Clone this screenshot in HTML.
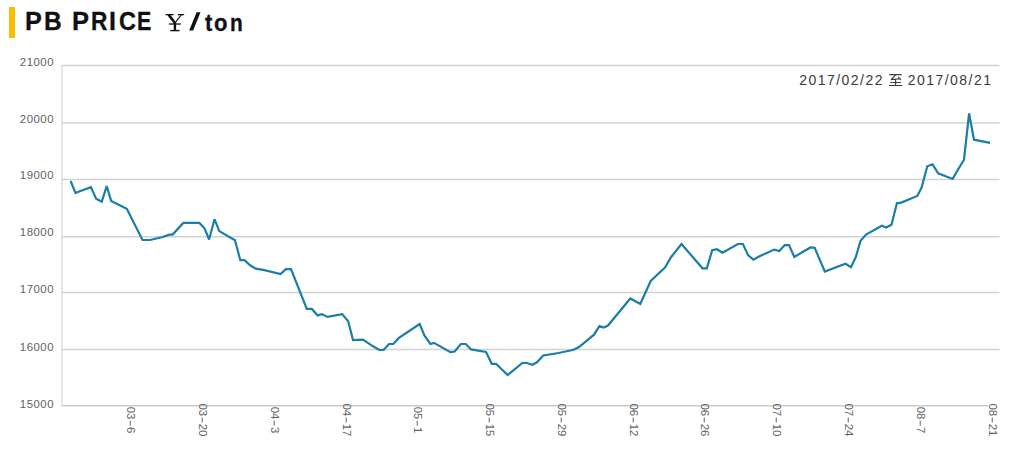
<!DOCTYPE html>
<html><head><meta charset="utf-8"><style>
html,body{margin:0;padding:0;background:#fff;}
body{width:1024px;height:466px;position:relative;overflow:hidden;font-family:"Liberation Sans",sans-serif;}
.bar{position:absolute;left:9.4px;top:7.3px;width:6.1px;height:30.5px;background:#f8bc00;}
.tg{position:absolute;transform-origin:0 0;top:9.2px;font-weight:bold;font-size:25.0px;color:#111;line-height:1;-webkit-text-stroke:0.3px #111;}
.tg.lc{font-size:23.2px;top:12.2px;}
svg{position:absolute;left:0;top:0;}
.yl{position:absolute;right:970.5px;font-size:11.4px;letter-spacing:0.5px;color:#626262;line-height:1;white-space:nowrap;margin-right:-0.5px;}
.xl{position:absolute;width:0;height:0;}
.xl span{position:absolute;left:0;top:0;transform:translate(-50%,-50%) rotate(90deg);font-size:11.4px;letter-spacing:0.1px;color:#626262;line-height:1;white-space:nowrap;}
.xl i{display:inline-block;width:5.2px;height:1.0px;background:#626262;vertical-align:3.3px;margin:0 1.1px;}
.dt{position:absolute;top:73.0px;font-size:14px;letter-spacing:1.45px;color:#3a3a3a;white-space:nowrap;line-height:1;}
</style></head><body>
<div class="bar"></div>
<span class="tg" style="left:25.39px;transform:scaleX(1.007)">P</span><span class="tg" style="left:43.94px;transform:scaleX(0.980)">B</span><span class="tg" style="left:71.66px;transform:scaleX(1.021)">P</span><span class="tg" style="left:90.59px;transform:scaleX(0.907)">R</span><span class="tg" style="left:109.00px;transform:scaleX(1.000)">I</span><span class="tg" style="left:119.06px;transform:scaleX(0.938)">C</span><span class="tg" style="left:137.39px;transform:scaleX(0.857)">E</span><span class="tg lc" style="left:204.50px;transform:scaleX(0.950)">t</span><span class="tg lc" style="left:214.35px;transform:scaleX(0.950)">o</span><span class="tg lc" style="left:230.30px;transform:scaleX(0.900)">n</span>
<svg width="1024" height="466" viewBox="0 0 1024 466">
<g stroke="#d2d2d2" stroke-width="1.5" fill="none"><line x1="62" y1="405.8" x2="988" y2="405.8" stroke="#cbcbcb"/><line x1="62" y1="349.5" x2="999.5" y2="349.5"/><line x1="62" y1="292.5" x2="999.5" y2="292.5"/><line x1="62" y1="236.8" x2="999.5" y2="236.8"/><line x1="62" y1="179.5" x2="999.5" y2="179.5"/><line x1="62" y1="122.9" x2="999.5" y2="122.9"/><line x1="62" y1="65.6" x2="999.5" y2="65.6"/></g>
<line x1="61.9" y1="64.89999999999999" x2="61.9" y2="406.5" stroke="#dfdfe3" stroke-width="1.5"/>
<polyline points="70.6,181.0 75.5,193.0 79.1,191.4 90.9,187.1 96.1,198.6 101.8,201.7 106.7,186.0 111.2,201.1 126.8,208.8 142.5,240.0 150.0,240.0 161.8,237.2 169.4,234.6 172.6,234.6 183.3,222.9 199.4,222.9 204.5,228.3 209.1,239.5 214.5,219.2 219.3,231.1 235.0,240.2 240.3,260.2 244.5,260.2 250.4,265.5 255.8,268.7 264.4,270.2 280.5,274.0 285.9,269.1 291.0,269.1 306.8,308.9 311.8,308.9 317.6,315.4 321.8,314.1 327.6,316.9 342.2,314.1 348.2,321.2 353.0,340.0 362.9,339.7 372.3,345.8 379.3,350.0 383.6,350.0 389.0,344.0 393.3,344.0 398.6,338.2 419.7,324.0 424.4,335.4 430.4,344.0 434.0,342.9 450.4,352.1 454.7,351.5 460.8,344.0 465.8,344.0 471.1,349.4 486.0,352.0 491.8,363.8 496.0,363.8 507.6,375.1 522.3,363.0 527.0,363.0 532.3,364.8 537.0,362.3 543.2,355.5 558.6,353.0 573.6,349.7 579.0,347.0 594.0,334.7 599.4,326.1 603.7,327.6 608.0,325.5 630.3,298.5 640.3,304.0 650.7,281.0 665.0,267.5 671.0,257.2 681.5,244.0 702.5,268.3 706.8,268.3 712.2,250.3 716.9,249.2 722.5,252.8 737.9,244.0 742.9,244.0 748.2,255.4 753.4,259.7 759.0,256.5 774.2,249.6 779.3,251.1 784.7,245.1 789.0,245.1 794.3,256.9 810.4,247.5 814.7,247.9 824.8,271.5 845.4,263.7 851.0,267.2 855.8,257.0 860.6,240.8 866.0,234.5 881.8,225.8 886.1,227.5 891.5,224.7 896.9,203.3 901.2,202.6 917.3,196.0 921.6,187.5 927.3,166.3 932.5,164.3 938.2,173.4 952.6,179.0 957.9,169.7 964.0,159.7 969.1,113.3 974.0,139.7 990.1,142.9" fill="none" stroke="#1a7ea6" stroke-width="2.2" stroke-linejoin="miter" stroke-miterlimit="3" stroke-linecap="butt"/>
<g fill="none" stroke="#111" transform="translate(0 0.4)">
<path d="M165.6 14.2H173.6M177.9 14.2H184.1" stroke-width="1.3"/>
<path d="M168.6 14.2L175 22.6" stroke-width="2.6"/>
<path d="M181.4 14.2L175 22.6" stroke-width="1.2"/>
<path d="M175 22H175" stroke-width="0"/>
<path d="M174.9 21.8V30" stroke-width="2.4"/>
<path d="M168.9 23.6H180.9" stroke-width="1.3"/>
<path d="M170.3 30.2H179.5" stroke-width="1.4"/>
</g>
<polygon points="189.2,30.4 193.1,30.4 200.5,12.3 196.6,12.3" fill="#111"/>
<g fill="none" stroke="#3a3a3a" stroke-width="1.1">
<path d="M889.4 74.6H901.6M895.6 74.8L891.4 79.4M890.9 79.6L900.3 78.8M898.2 76.8L901 80M895.6 79.2V85.4M890.4 82.5H900.9M889 85.5H902.2"/>
</g>
</svg>
<div class="yl" style="top:398.50px">15000</div><div class="yl" style="top:341.50px">16000</div><div class="yl" style="top:284.40px">17000</div><div class="yl" style="top:227.40px">18000</div><div class="yl" style="top:170.40px">19000</div><div class="yl" style="top:113.50px">20000</div><div class="yl" style="top:57.30px">21000</div>
<div class="xl" style="left:130.20px;top:420.3px"><span>03<i></i>6</span></div><div class="xl" style="left:201.98px;top:420.3px"><span>03<i></i>20</span></div><div class="xl" style="left:273.76px;top:420.3px"><span>04<i></i>3</span></div><div class="xl" style="left:345.54px;top:420.3px"><span>04<i></i>17</span></div><div class="xl" style="left:417.32px;top:420.3px"><span>05<i></i>1</span></div><div class="xl" style="left:489.10px;top:420.3px"><span>05<i></i>15</span></div><div class="xl" style="left:560.88px;top:420.3px"><span>05<i></i>29</span></div><div class="xl" style="left:632.66px;top:420.3px"><span>06<i></i>12</span></div><div class="xl" style="left:704.44px;top:420.3px"><span>06<i></i>26</span></div><div class="xl" style="left:776.22px;top:420.3px"><span>07<i></i>10</span></div><div class="xl" style="left:848.00px;top:420.3px"><span>07<i></i>24</span></div><div class="xl" style="left:919.78px;top:420.3px"><span>08<i></i>7</span></div><div class="xl" style="left:991.56px;top:420.3px"><span>08<i></i>21</span></div>
<div class="dt" style="left:799.3px">2017/02/22</div>
<div class="dt" style="left:907.8px">2017/08/21</div>
</body></html>
